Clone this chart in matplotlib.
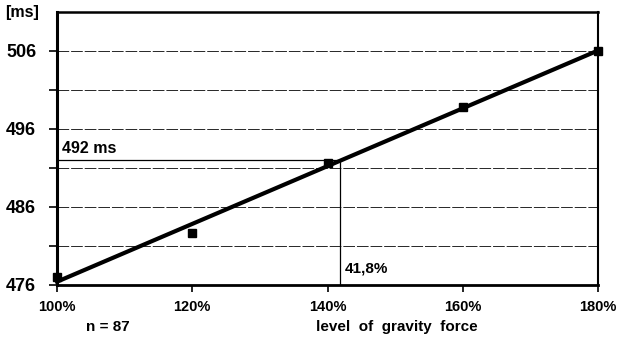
import numpy as np
import matplotlib
matplotlib.use("Agg")
import matplotlib.pyplot as plt

plt.rcParams['font.family'] = ['Liberation Sans', 'DejaVu Sans']

gravity = [100, 120, 140, 160, 180]
reaction_ms = [477.0, 482.7, 491.7, 498.8, 506.0]
x_labels = ["100%", "120%", "140%", "160%", "180%"]
y_ticks = [476, 486, 496, 506]
grid_levels = [481, 486, 491, 496, 501, 506]
ref_ms = 492
ref_gravity = 141.8

fig = plt.figure(figsize=(6.21, 3.42), dpi=100)
ax = fig.add_axes([0.0918, 0.1667, 0.963 - 0.0918, 0.965 - 0.1667])

ax.set_xlim(100, 180)
ax.set_ylim(476, 511)

for g in grid_levels:
    ax.axhline(g, color='black', lw=0.7, linestyle=(0, (12, 2)), alpha=0.85, zorder=1)

# trend line
coef = np.polyfit(gravity, reaction_ms, 1)
xs = np.array([100, 180])
ax.plot(xs, np.polyval(coef, xs), color='black', lw=3, zorder=3, clip_on=False)

ax.plot(gravity, reaction_ms, linestyle='none', marker='s', color='black',
        markersize=5.5, zorder=4, clip_on=False)

# reference lines
ax.plot([100, ref_gravity], [ref_ms, ref_ms], color='black', lw=0.9, zorder=2)
ax.plot([ref_gravity, ref_gravity], [476, ref_ms], color='black', lw=0.9, zorder=2)
ax.text(100.8, ref_ms + 0.5, f"{ref_ms} ms", fontsize=11.5, fontweight='bold',
        ha='left', va='bottom')
ax.text(ref_gravity + 0.8, 477.2, "41,8%", fontsize=11, fontweight='bold',
        ha='left', va='bottom')

ax.set_xticks(gravity)
ax.set_xticklabels(x_labels, fontsize=10.5, fontweight='bold')
ax.set_yticks(y_ticks)
ax.set_yticklabels([str(t) for t in y_ticks], fontsize=13, fontweight='bold')
ax.set_yticks([481, 491, 501], minor=True)
ax.tick_params(axis='y', which='both', length=6, width=1.2, direction='out', pad=9)
ax.tick_params(axis='x', which='both', length=5, width=1.2, direction='out', pad=6)

for side, lw in [('left', 2.2), ('bottom', 2.0), ('top', 1.8), ('right', 1.5)]:
    ax.spines[side].set_linewidth(lw)
    ax.spines[side].set_color('black')

fig.text(0.008, 0.985, "[ms]", fontsize=11.5, fontweight='bold', ha='left', va='top')
fig.text(0.173, 0.045, "n = 87", fontsize=11, fontweight='bold', ha='center', va='center')
fig.text(0.639, 0.045, "level  of  gravity  force", fontsize=11, fontweight='bold',
         ha='center', va='center')

fig.savefig("out.png", dpi=100)
